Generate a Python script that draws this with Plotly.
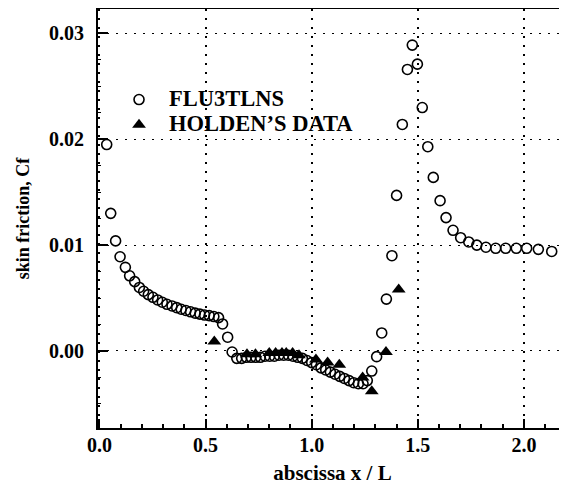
import plotly.graph_objects as go

# FLU3TLNS computed skin friction (open circles)
flu_x = [0.034, 0.053, 0.076, 0.097, 0.122, 0.142, 0.166, 0.188, 0.208, 0.230, 0.252,
         0.274, 0.296, 0.318, 0.342, 0.364, 0.385, 0.407, 0.429, 0.451, 0.473, 0.495,
         0.517, 0.539, 0.561, 0.580, 0.604, 0.625, 0.647, 0.670, 0.692, 0.714, 0.736,
         0.758, 0.780, 0.802, 0.824, 0.846, 0.868, 0.890, 0.912, 0.934, 0.956, 0.978,
         1.000, 1.022, 1.044, 1.066, 1.088, 1.110, 1.132, 1.154, 1.176, 1.198, 1.220,
         1.242, 1.262, 1.283, 1.306, 1.330, 1.352, 1.378, 1.400, 1.427, 1.451, 1.474,
         1.498, 1.521, 1.547, 1.573, 1.605, 1.633, 1.666, 1.702, 1.740, 1.778, 1.821,
         1.867, 1.914, 1.964, 2.013, 2.068, 2.131]
flu_cf = [0.0195, 0.0130, 0.0104, 0.0089, 0.0079, 0.0071, 0.00655, 0.0060, 0.00564, 0.00532, 0.00507,
          0.00482, 0.0046, 0.00441, 0.00425, 0.00409, 0.00394, 0.00382, 0.0037, 0.00357, 0.00348, 0.00339,
          0.00334, 0.00325, 0.00315, 0.00255, 0.0013, -0.0001, -0.0007, -0.0007, -0.0006, -0.0006, -0.0006,
          -0.0006, -0.0005, -0.0005, -0.0005, -0.0004, -0.0004, -0.0004, -0.0005, -0.0006, -0.0007, -0.0009,
          -0.0011, -0.0013, -0.0016, -0.0018, -0.0020, -0.0022, -0.0024, -0.0026, -0.0028, -0.0030, -0.0031,
          -0.0031, -0.0028, -0.0019, -0.00054, 0.0017, 0.0049, 0.0090, 0.0147, 0.0214, 0.0266, 0.0289,
          0.0271, 0.0230, 0.0193, 0.0164, 0.0142, 0.0126, 0.0114, 0.0107, 0.0103, 0.0100, 0.0098,
          0.0097, 0.0097, 0.0097, 0.0097, 0.0096, 0.0094]

# Holden's experimental data (filled triangles)
holden_x = [0.541, 0.695, 0.735, 0.800, 0.830, 0.860, 0.880, 0.910, 0.940, 1.020,
            1.075, 1.130, 1.240, 1.283, 1.350, 1.410]
holden_cf = [0.0009, -0.0003, -0.0003, -0.0002, -0.0002, -0.0002, -0.0002, -0.0002, -0.0004, -0.0008,
             -0.0011, -0.0013, -0.0025, -0.0038, -0.0001, 0.0058]

x_ticks = [0.0, 0.5, 1.0, 1.5, 2.0]
x_ticklabels = ["0.0", "0.5", "1.0", "1.5", "2.0"]
y_ticks = [0.0, 0.01, 0.02, 0.03]
y_ticklabels = ["0.00", "0.01", "0.02", "0.03"]
series_names = ["FLU3TLNS", "HOLDEN\u2019S DATA"]

FONT = "Liberation Serif"


def big(t):
    return '<span style="font-size:22.5px">' + t + '</span>'


fig = go.Figure()
fig.add_trace(go.Scatter(
    x=flu_x, y=flu_cf, mode="markers", name=big(series_names[0]),
    marker=dict(symbol="circle-open", size=10, color="black", line=dict(width=1.6, color="black")),
))
fig.add_trace(go.Scatter(
    x=holden_x, y=holden_cf, mode="markers", name=big(series_names[1]),
    marker=dict(symbol="triangle-up", size=12, color="black"),
))

fig.update_layout(
    width=559, height=478,
    margin=dict(l=90, r=0, t=1, b=58),
    paper_bgcolor="white", plot_bgcolor="white",
    font=dict(family=FONT, size=20, color="black", weight="bold"),
    showlegend=True,
    legend=dict(x=0.0235, y=0.753, xanchor="left", yanchor="middle",
                bgcolor="rgba(0,0,0,0)", itemwidth=50,
                font=dict(family=FONT, size=17, color="black", weight="bold")),
    xaxis=dict(
        range=[-0.007, 2.203],
        tickvals=x_ticks, ticktext=x_ticklabels,
        ticks="inside", ticklen=9, tickwidth=1.5, tickcolor="black",
        minor=dict(dtick=0.1, ticks="inside", ticklen=4, tickwidth=1.5, tickcolor="black", showgrid=False),
        showline=True, linewidth=2, linecolor="black", mirror=True,
        showgrid=True, gridcolor="black", gridwidth=1.6, griddash="2px,7px",
        zeroline=False,
        ticklabelstandoff=-2,
        tickfont=dict(family=FONT, size=20, color="black", weight="bold"),
        title=dict(text="abscissa x / L", standoff=10,
                   font=dict(family=FONT, size=21, color="black", weight="bold")),
    ),
    yaxis=dict(
        range=[-0.00728, 0.03231],
        tickvals=y_ticks, ticktext=y_ticklabels,
        ticks="inside", ticklen=10, tickwidth=1.5, tickcolor="black",
        minor=dict(dtick=0.0025, ticks="inside", ticklen=3, tickwidth=1, tickcolor="black", showgrid=False),
        showline=True, linewidth=2, linecolor="black", mirror=False,
        showgrid=True, gridcolor="black", gridwidth=1.2, griddash="2px,7px",
        zeroline=False,
        ticklabelstandoff=8,
        tickfont=dict(family=FONT, size=20, color="black", weight="bold"),
        title=dict(text="skin friction, Cf", standoff=15,
                   font=dict(family=FONT, size=18, color="black", weight="bold")),
    ),
)

fig.write_html("out.html")
